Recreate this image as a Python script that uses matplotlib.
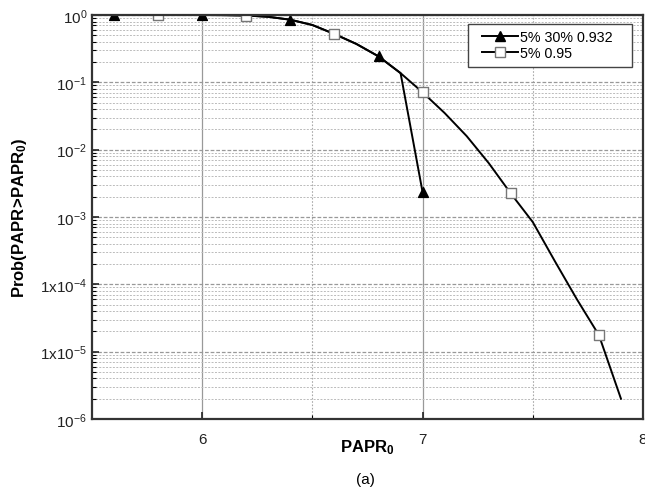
import numpy as np
import matplotlib
matplotlib.use("Agg")
from matplotlib import pyplot as plt
from matplotlib.lines import Line2D
from matplotlib.patches import Rectangle
from matplotlib.ticker import FixedLocator, FixedFormatter, LogLocator, NullFormatter

plt.rcParams['font.family'] = ['Liberation Sans', 'DejaVu Sans']
plt.rcParams['mathtext.fontset'] = 'custom'
plt.rcParams['mathtext.rm'] = 'Liberation Sans'
plt.rcParams['mathtext.it'] = 'Liberation Sans'
plt.rcParams['mathtext.bf'] = 'Liberation Sans:bold'

# PAPR0 values (dB) and CCDF
papr_sq = [5.5, 5.6, 5.7, 5.8, 5.9, 6.0, 6.1, 6.2, 6.3, 6.4, 6.5, 6.6, 6.7,
           6.8, 6.9, 7.0, 7.1, 7.2, 7.3, 7.4, 7.5, 7.6, 7.7, 7.8, 7.9]
prob_sq = [1.0, 1.0, 1.0, 1.0, 1.0, 1.0, 0.995, 0.983, 0.94, 0.851, 0.71, 0.522, 0.371,
           0.243, 0.137, 0.071, 0.035, 0.0159, 0.00632, 0.00224, 8.4e-4, 2.21e-4, 6.0e-5,
           1.76e-5, 2.0e-6]

papr_tri = [5.5, 5.6, 5.7, 5.8, 5.9, 6.0, 6.1, 6.2, 6.3, 6.4, 6.5, 6.6, 6.7,
            6.8, 6.9, 7.0]
prob_tri = [1.0, 1.0, 1.0, 1.0, 1.0, 1.0, 0.995, 0.983, 0.94, 0.851, 0.71, 0.522, 0.371,
            0.243, 0.137, 0.00233]

# which points carry a marker
marks_sq = [3, 7, 11, 15, 19, 23]
marks_tri = [1, 5, 9, 13, 15]

ytick_vals = [1e-6, 1e-5, 1e-4, 1e-3, 1e-2, 1e-1, 1e0]
ytick_text = [r'$10^{-6}$', r'$1\mathrm{x}10^{-5}$', r'$1\mathrm{x}10^{-4}$',
              r'$10^{-3}$', r'$10^{-2}$', r'$10^{-1}$', r'$10^{0}$']

fig = plt.figure(figsize=(6.45, 4.89), dpi=100)
ax = fig.add_axes([92 / 645, 1 - 420 / 489, 551 / 645, 404 / 489])

ax.plot(papr_sq, prob_sq, color='black', lw=1.4, zorder=3)
ax.plot(papr_tri, prob_tri, color='black', lw=1.4, zorder=4)
# markers as scatter so they get clipped at the frame like the original
ax.scatter([papr_sq[i] for i in marks_sq], [prob_sq[i] for i in marks_sq],
           marker='s', s=42, facecolor='white', edgecolor='#777777', lw=1.0, zorder=5)
ax.scatter([papr_tri[i] for i in marks_tri], [prob_tri[i] for i in marks_tri],
           marker='^', s=50, facecolor='black', edgecolor='black', zorder=6)

ax.set_yscale('log')
ax.set_xlim(5.5, 8.0)
ax.set_ylim(1e-6, 1.0)

ax.yaxis.set_major_locator(FixedLocator(ytick_vals))
ax.yaxis.set_major_formatter(FixedFormatter(ytick_text))
ax.yaxis.set_minor_locator(LogLocator(base=10, subs=np.arange(2, 10), numticks=20))
ax.yaxis.set_minor_formatter(NullFormatter())

ax.set_xticks([6, 7, 8])
ax.set_xticklabels(['6', '7', '8'])
ax.set_xticks([6.5, 7.5], minor=True)

ax.tick_params(axis='both', which='major', direction='in', length=5, width=1.2,
               labelsize=11, colors='#222222', right=False, top=False)
ax.tick_params(axis='both', which='minor', direction='in', length=3, width=0.8,
               right=False, top=False)
ax.tick_params(axis='x', pad=9)

ax.grid(True, which='major', axis='y', color='#999999', ls=(0, (3, 1.5)), lw=0.9)
ax.grid(True, which='minor', axis='y', color='#bbbbbb', ls=(0, (2, 1.5)), lw=0.7)
ax.grid(True, which='major', axis='x', color='#999999', ls='-', lw=0.9)
ax.grid(True, which='minor', axis='x', color='#aaaaaa', ls=(0, (1.5, 1.5)), lw=0.8)

for s in ax.spines.values():
    s.set_linewidth(1.6)
    s.set_color('#333333')
    s.set_zorder(7)

ax.set_xlabel(r'$\mathbf{PAPR_0}$', fontsize=12, labelpad=-6)
ax.set_ylabel(r'$\mathbf{Prob(PAPR\!>\!PAPR_0)}$', fontsize=12, labelpad=8)

# legend box drawn by hand so the padding matches the original
box = Rectangle((0.682, 0.871), 0.298, 0.107, transform=ax.transAxes,
                facecolor='white', edgecolor='#444444', lw=1.0, zorder=8)
ax.add_patch(box)
h_tri = Line2D([], [], color='black', lw=1.4, marker='^', markersize=7,
               markerfacecolor='black', markeredgecolor='black')
h_sq = Line2D([], [], color='black', lw=1.4, marker='s', markersize=6.5,
              markerfacecolor='white', markeredgecolor='#777777', markeredgewidth=1.0)
leg = ax.legend([h_tri, h_sq], ['5% 30% 0.932', '5% 0.95'], loc='upper left',
                bbox_to_anchor=(0.708, 0.962), frameon=False,
                fontsize=10.3, handlelength=2.5, borderpad=0,
                handletextpad=0.15, labelspacing=0.15, borderaxespad=0)
leg.set_zorder(9)

fig.text(365 / 645, 1 - 480 / 489, '(a)', ha='center', va='center', fontsize=11)

fig.savefig('out.png', dpi=100)
